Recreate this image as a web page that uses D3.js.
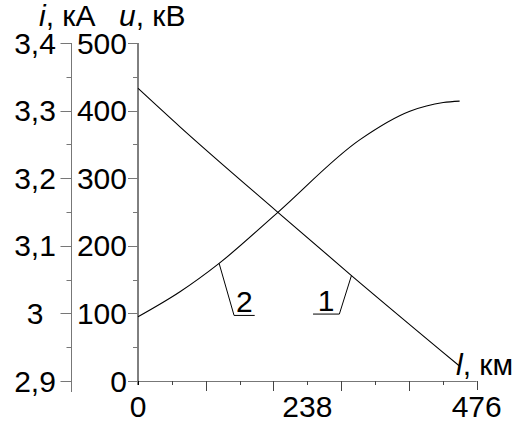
<!DOCTYPE html>
<html>
<head>
<meta charset="utf-8">
<script src="https://cdn.jsdelivr.net/npm/d3@7"></script>
<style>
body { margin: 0; background: #fff; }
text { font-family: "Liberation Sans", Arial, sans-serif; font-size: 30px; fill: #000; }
</style>
</head>
<body>
<svg id="chart" width="528" height="421"></svg>
<script>
// axis ticks
var lengthTicks = [0, 238, 476];
var currentTicks = [2.9, 3, 3.1, 3.2, 3.3, 3.4];
var currentLabels = ["2,9", "3", "3,1", "3,2", "3,3", "3,4"];
var voltageTicks = [0, 100, 200, 300, 400, 500];

// curve 1: u, kV along the line
var line1Km = [0, 59, 195, 300, 452];
var line1Kv = [433, 376, 251, 156, 22];

// curve 2: i, kA along the line
var line2Km = [0, 59, 114, 195, 312, 382, 429, 452];
var line2Ka = [2.995, 3.032, 3.074, 3.148, 3.257, 3.299, 3.312, 3.314];

// curve labels (leader: point on curve -> elbow -> end of underline)
var labelNames = ["1", "2"];
var labelCurveKm = [300, 114];
var labelCurveKv = [156, 174];
var labelElbowKm = [283, 135];
var labelEndKm = [246, 164];
var labelLevelKv = [99, 97];

var svg = d3.select("#chart");

var x = d3.scaleLinear().domain([0, 476]).range([138, 476.7]);
var yU = d3.scaleLinear().domain([0, 500]).range([381, 43]);
var yI = d3.scaleLinear().domain([2.9, 3.4]).range([381, 43]);

// left axis (current)
var axI = svg.append("g");
axI.append("line")
	.attr("x1", 71.5).attr("x2", 71.5)
	.attr("y1", yI(3.4)).attr("y2", yI(2.9) + 11)
	.style("stroke", "#777");
d3.range(2.9, 3.41, 0.05).forEach(function(v, k) {
	var len = k % 2 == 0 ? 11 : 5;
	axI.append("line")
		.attr("x1", 71.5 - len).attr("x2", 71.5)
		.attr("y1", Math.round(yI(v)) + 0.5).attr("y2", Math.round(yI(v)) + 0.5)
		.style("stroke", "#777");
});
currentTicks.forEach(function(v, k) {
	axI.append("text")
		.attr("x", 35).attr("y", yI(v) + 10.5)
		.attr("text-anchor", "middle")
		.text(currentLabels[k]);
});

// second axis (voltage)
var axU = svg.append("g");
axU.append("line")
	.attr("x1", 138).attr("x2", 138)
	.attr("y1", yU(500)).attr("y2", yU(0) + 4)
	.style("stroke", "#000");
d3.range(0, 501, 50).forEach(function(v, k) {
	var len = k % 2 == 0 ? 10 : 5;
	axU.append("line")
		.attr("x1", 138 - len).attr("x2", 138)
		.attr("y1", Math.round(yU(v)) + 0.5).attr("y2", Math.round(yU(v)) + 0.5)
		.style("stroke", "#777");
});
voltageTicks.forEach(function(v) {
	axU.append("text")
		.attr("x", 127).attr("y", yU(v) + 10.5)
		.attr("text-anchor", "end")
		.text(v);
});

// x axis (length)
var axL = svg.append("g");
axL.append("line")
	.attr("x1", x(0)).attr("x2", x(476))
	.attr("y1", 381.5).attr("y2", 381.5)
	.style("stroke", "#777");
d3.range(0, 11).forEach(function(k) {
	var len = (k % 2 == 0 && k > 0 && k < 10) ? 10 : (k == 10 ? 9 : 4);
	var px = Math.round(x(k * 47.6)) + 0.5;
	axL.append("line")
		.attr("x1", px).attr("x2", px)
		.attr("y1", 381).attr("y2", 381 + len)
		.style("stroke", k == 0 ? "#000" : "#444");
});
lengthTicks.forEach(function(v) {
	axL.append("text")
		.attr("x", x(v)).attr("y", 417)
		.attr("text-anchor", "middle")
		.text(v);
});

// axis titles
var t1 = svg.append("text").attr("x", 39).attr("y", 26);
t1.append("tspan").style("font-style", "italic").text("i");
t1.append("tspan").text(", кА");
var t2 = svg.append("text").attr("x", 119).attr("y", 26);
t2.append("tspan").style("font-style", "italic").text("u");
t2.append("tspan").text(", кВ");
var t3 = svg.append("text").attr("x", 456).attr("y", 375);
t3.append("tspan").style("font-style", "italic").text("l");
t3.append("tspan").text(", км");

// curves
var curve1 = d3.line()
	.x(function(d, k) { return x(line1Km[k]); })
	.y(function(d) { return yU(d); })
	.curve(d3.curveMonotoneX);
svg.append("path")
	.datum(line1Kv)
	.attr("d", curve1)
	.style("fill", "none").style("stroke", "#000").style("stroke-width", 1.1);

var curve2 = d3.line()
	.x(function(d, k) { return x(line2Km[k]); })
	.y(function(d) { return yI(d); })
	.curve(d3.curveMonotoneX);
svg.append("path")
	.datum(line2Ka)
	.attr("d", curve2)
	.style("fill", "none").style("stroke", "#000").style("stroke-width", 1.1);

// curve labels
labelNames.forEach(function(name, k) {
	var pts = [
		[x(labelCurveKm[k]), yU(labelCurveKv[k])],
		[x(labelElbowKm[k]), yU(labelLevelKv[k])],
		[x(labelEndKm[k]), yU(labelLevelKv[k])]
	];
	svg.append("path")
		.attr("d", d3.line()(pts))
		.style("fill", "none").style("stroke", "#000").style("stroke-width", 1);
	svg.append("text")
		.attr("x", (x(labelElbowKm[k]) + x(labelEndKm[k])) / 2)
		.attr("y", yU(labelLevelKv[k]) - 3)
		.attr("text-anchor", "middle")
		.text(name);
});
</script>
</body>
</html>
